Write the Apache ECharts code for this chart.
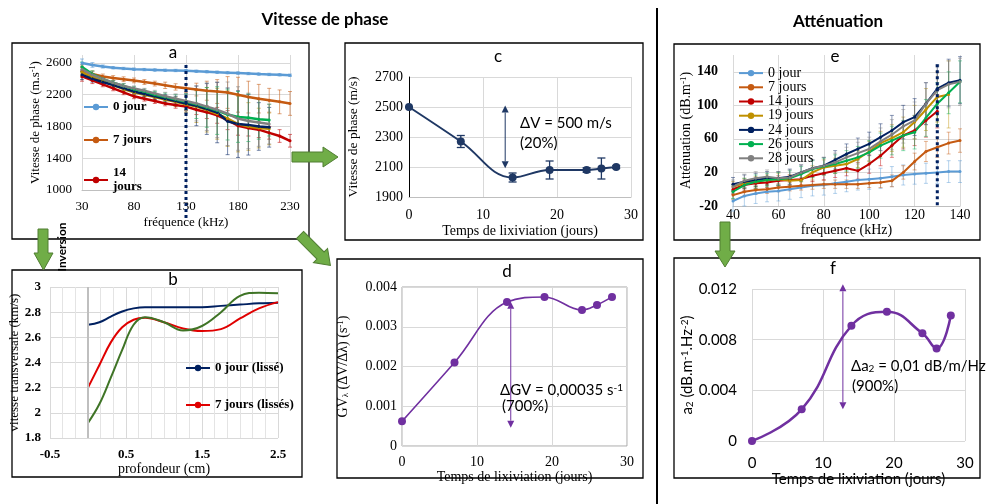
<!DOCTYPE html>
<html>
<head>
<meta charset="utf-8">
<script src="https://cdn.jsdelivr.net/npm/echarts@6/dist/echarts.min.js"></script>
<style>
html, body { margin: 0; padding: 0; background: #fff; }
#chart { width: 986px; height: 504px; }
</style>
</head>
<body>
<div id="chart"></div>
<script>
const serif = '"Liberation Serif", "Times New Roman", serif';
const sans = 'Lato, "Noto Sans", sans-serif';

// --- a : vitesse de phase vs fréquence
const freqA = [30, 40, 50, 60, 70, 80, 90, 100, 110, 120, 130, 140, 150, 160, 170, 180, 190, 200, 210, 220, 230];
const velA0 = [2600, 2575, 2555, 2540, 2530, 2522, 2516, 2512, 2508, 2505, 2502, 2496, 2490, 2484, 2478, 2472, 2466, 2460, 2455, 2450, 2445];
const velA7 = [2500, 2460, 2430, 2410, 2395, 2380, 2360, 2340, 2318, 2298, 2280, 2265, 2250, 2240, 2228, 2200, 2170, 2150, 2130, 2110, 2090];
const velA14 = [2430, 2380, 2330, 2280, 2230, 2180, 2150, 2120, 2090, 2070, 2050, 2010, 1980, 1940, 1880, 1810, 1780, 1760, 1720, 1680, 1620];
const velA19 = [2480, 2420, 2370, 2320, 2270, 2230, 2200, 2170, 2140, 2110, 2080, 2050, 2010, 1960, 1900, 1830, 1800, 1780, 1770, null, null];
const velA24 = [2450, 2400, 2360, 2320, 2280, 2240, 2210, 2180, 2150, 2120, 2090, 2060, 2020, 1975, 1865, 1830, 1820, 1800, 1790, null, null];
const velA26 = [2550, 2460, 2400, 2350, 2310, 2270, 2240, 2200, 2170, 2140, 2110, 2080, 2040, 2000, 1950, 1920, 1910, 1890, 1880, null, null];
const velA28 = [2520, 2450, 2400, 2350, 2310, 2280, 2250, 2215, 2180, 2150, 2120, 2090, 2050, 2010, 1960, 1900, 1870, 1850, 1830, null, null];
const errA0 = [50, 30, 20, 15, 15, 15, 15, 15, 15, 15, 15, 15, 15, 15, 15, 15, 15, 15, 15, 15, 15];
const errA7 = [60, 40, 30, 30, 30, 30, 30, 30, 40, 40, 50, 80, 120, 150, 200, 220, 200, 180, 150, 150, 150];
const errA14 = [60, 40, 30, 30, 30, 30, 30, 30, 30, 40, 50, 60, 80, 100, 120, 120, 100, 100, 80, 80, 80];
const errA19 = [60, 40, 30, 30, 30, 30, 30, 40, 50, 60, 100, 200, 280, 320, 350, 350, 300, 250, 200, null, null];
const errA24 = [60, 40, 30, 30, 30, 30, 30, 40, 50, 60, 120, 250, 320, 380, 420, 420, 380, 300, 250, null, null];
const errA26 = [60, 40, 30, 30, 30, 30, 30, 40, 50, 60, 100, 180, 250, 300, 320, 320, 300, 250, 200, null, null];
const errA28 = [60, 40, 30, 30, 30, 30, 30, 40, 50, 60, 120, 220, 300, 350, 400, 400, 350, 300, 250, null, null];

// --- b : vitesse transversale vs profondeur
const depthB = [0, 0.15, 0.3, 0.45, 0.6, 0.75, 1.0, 1.25, 1.5, 1.75, 2.0, 2.25, 2.5];
const vsB0 = [2.70, 2.72, 2.765, 2.805, 2.83, 2.84, 2.84, 2.84, 2.84, 2.85, 2.86, 2.87, 2.875];
const vsB7 = [2.20, 2.38, 2.56, 2.68, 2.74, 2.755, 2.72, 2.67, 2.65, 2.665, 2.75, 2.83, 2.88];
const vsB14 = [1.92, 2.07, 2.28, 2.50, 2.70, 2.76, 2.72, 2.655, 2.69, 2.80, 2.93, 2.955, 2.95];

// --- c, d, f : temps de lixiviation
const days = [0, 7, 14, 19, 24, 26, 28];
const velC = [2500, 2270, 2030, 2080, 2080, 2090, 2100];
const errC = [0, 40, 30, 60, 15, 70, 10];
const gvD = [0.00062, 0.0021, 0.00362, 0.00375, 0.00342, 0.00355, 0.00375];
const a2F = [0, 0.0025, 0.0091, 0.0102, 0.0085, 0.0073, 0.0099];

// --- e : atténuation vs fréquence
const freqE = [40, 45, 50, 55, 60, 65, 70, 75, 80, 85, 90, 95, 100, 105, 110, 115, 120, 125, 130, 135, 140];
const attE0 = [-14, -8, -5, -3, -2, 0, 2, 4, 5, 7, 9, 11, 12, 13, 15, 17, 18, 19, 20, 21, 21];
const attE7 = [-7, -3, -1, 0, 2, 3, 4, 5, 6, 6, 6, 6, 7, 8, 10, 20, 33, 45, 50, 55, 58];
const attE14 = [0, 5, 7, 8, 10, 11, 12, 16, 19, 22, 25, 22, 30, 40, 52, 64, 70, 82, 93, null, null];
const attE19 = [3, 7, 9, 11, 12, 10, 11, 20, 26, 28, 30, 36, 45, 55, 61, 68, 80, 95, 110, 113, null];
const attE24 = [6, 9, 11, 13, 13, 15, 20, 25, 28, 35, 42, 48, 54, 62, 70, 80, 86, 102, 120, 127, 130];
const attE26 = [-3, 5, 9, 11, 12, 13, 18, 24, 27, 30, 34, 38, 44, 52, 58, 64, 68, 85, 102, 115, 128];
const attE28 = [3, 10, 13, 15, 13, 14, 20, 25, 28, 32, 38, 43, 48, 57, 65, 75, 82, 102, 118, 125, 128];
const errE0 = [12, 12, 12, 12, 12, 12, 12, 12, 12, 12, 12, 12, 12, 12, 12, 12, 12, 12, 13, 13, 13];
const errE7 = [5, 5, 5, 5, 5, 5, 5, 5, 5, 5, 5, 5, 5, 6, 7, 8, 10, 12, 12, 13, 14];
const errE14 = [6, 6, 6, 6, 6, 6, 7, 7, 8, 8, 9, 10, 11, 12, 14, 16, 18, 20, 20, null, null];
const errE19 = [6, 6, 6, 6, 7, 7, 8, 8, 9, 9, 10, 10, 12, 14, 16, 18, 20, 25, 30, 40, null];
const errE24 = [8, 8, 8, 8, 8, 9, 9, 10, 10, 11, 12, 13, 14, 16, 18, 20, 22, 25, 28, 28, 28];
const errE26 = [8, 8, 8, 8, 8, 9, 9, 10, 10, 11, 12, 13, 14, 15, 17, 18, 20, 22, 25, 25, 25];
const errE28 = [8, 8, 8, 8, 8, 9, 9, 10, 10, 11, 12, 13, 14, 16, 18, 20, 22, 25, 28, 28, 28];

const names = ['0 jour', '7 jours', '14 jours', '19 jours', '24 jours', '26 jours', '28 jours'];
const colors = ['#5B9BD5', '#C55A11', '#C00000', '#BF9000', '#002060', '#00B050', '#808080'];
const velA = [velA0, velA7, velA14, velA19, velA24, velA26, velA28];
const errA = [errA0, errA7, errA14, errA19, errA24, errA26, errA28];
const attE = [attE0, attE7, attE14, attE19, attE24, attE26, attE28];
const errE = [errE0, errE7, errE14, errE19, errE24, errE26, errE28];

const grey = '#D9D9D9';
const zip = (xs, ys) => xs.map((x, i) => [x, ys[i]]);
const plain = (v) => String(v);
const fmt3 = (v) => (v === 0 ? '0' : v.toFixed(3));

function errorSeries(idx, xs, ys, errs, color, cap, width, opacity) {
    const data = [];
    xs.forEach((x, i) => {
        if (ys[i] != null && errs[i] != null) data.push([x, ys[i] - errs[i], ys[i] + errs[i]]);
    });
    return {
        type: 'custom', xAxisIndex: idx, yAxisIndex: idx, silent: true, z: 1,
        encode: { x: 0, y: [1, 2] },
        data,
        renderItem: (params, api) => {
            const lo = api.coord([api.value(0), api.value(1)]);
            const hi = api.coord([api.value(0), api.value(2)]);
            const st = { stroke: color, lineWidth: width, opacity };
            return {
                type: 'group',
                children: [
                    { type: 'line', shape: { x1: lo[0], y1: lo[1], x2: hi[0], y2: hi[1] }, style: st },
                    { type: 'line', shape: { x1: lo[0] - cap, y1: lo[1], x2: lo[0] + cap, y2: lo[1] }, style: st },
                    { type: 'line', shape: { x1: hi[0] - cap, y1: hi[1], x2: hi[0] + cap, y2: hi[1] }, style: st },
                ],
            };
        },
    };
}

const txt = (family, size, weight) => ({ fontFamily: family, fontSize: size, fontWeight: weight || 'normal', color: '#000' });
const supRich = (family, size) => ({
    sup: { fontFamily: family, fontSize: size, verticalAlign: 'top', color: '#000' },
    sub: { fontFamily: family, fontSize: size, verticalAlign: 'bottom', color: '#000' },
});

function xAxis(idx, o) {
    return Object.assign({
        gridIndex: idx, type: 'value', axisTick: { show: false },
        axisLine: { show: false, onZero: false },
        splitLine: { show: true, lineStyle: { color: grey } },
        nameLocation: 'middle',
    }, o);
}
function yAxis(idx, o) {
    return Object.assign({
        gridIndex: idx, type: 'value', axisTick: { show: false },
        axisLine: { show: false, onZero: false },
        splitLine: { show: true, lineStyle: { color: grey } },
        nameLocation: 'middle',
    }, o);
}

const series = [];

// a
names.forEach((n, k) => {
    series.push(errorSeries(0, freqA, velA[k], errA[k], colors[k], 2, 1, 0.55));
});
names.forEach((n, k) => {
    series.push({
        name: n, type: 'line', xAxisIndex: 0, yAxisIndex: 0, data: zip(freqA, velA[k]),
        color: colors[k], symbol: 'circle', symbolSize: 3,
        lineStyle: { width: 2.5 }, z: 3 + (k === 0 ? 1 : 0),
    });
});

// b
series.push({
    name: '0 jour (lissé)', type: 'line', xAxisIndex: 1, yAxisIndex: 1, data: zip(depthB, vsB0),
    color: '#002060', symbol: 'none', smooth: 0.4, lineStyle: { width: 2 }, z: 3,
    markLine: {
        silent: true, symbol: 'none', label: { show: false },
        lineStyle: { color: '#BFBFBF', width: 2, type: 'solid' }, data: [{ xAxis: 0 }],
    },
});
series.push({
    name: '7 jours (lissés)', type: 'line', xAxisIndex: 1, yAxisIndex: 1, data: zip(depthB, vsB7),
    color: '#E00000', symbol: 'none', smooth: 0.4, lineStyle: { width: 2 }, z: 3,
});
series.push({
    name: '14 jours (lissés)', type: 'line', xAxisIndex: 1, yAxisIndex: 1, data: zip(depthB, vsB14),
    color: '#3F7426', symbol: 'none', smooth: 0.4, lineStyle: { width: 2 }, z: 3,
});

// c
series.push(errorSeries(2, days, velC, errC, '#1F3864', 4, 1.3, 1));
series.push({
    name: 'vitesse c', type: 'line', xAxisIndex: 2, yAxisIndex: 2, data: zip(days, velC),
    color: '#1F3864', symbol: 'circle', symbolSize: 8, smooth: 0.4, lineStyle: { width: 2 }, z: 3,
});

// d
series.push({
    name: 'gv d', type: 'line', xAxisIndex: 3, yAxisIndex: 3, data: zip(days, gvD),
    color: '#7030A0', symbol: 'circle', symbolSize: 8, smooth: 0.4, lineStyle: { width: 1.6 }, z: 3,
});

// e
names.forEach((n, k) => {
    series.push(errorSeries(4, freqE, attE[k], errE[k], colors[k], 2, 1, 0.45));
});
names.forEach((n, k) => {
    series.push({
        name: n, type: 'line', xAxisIndex: 4, yAxisIndex: 4, data: zip(freqE, attE[k]),
        color: colors[k], symbol: 'circle', symbolSize: 3, lineStyle: { width: 2 }, z: 3,
    });
});

// f
series.push({
    name: 'a2 f', type: 'line', xAxisIndex: 5, yAxisIndex: 5, data: zip(days, a2F),
    color: '#7030A0', symbol: 'circle', symbolSize: 8, smooth: 0.45, lineStyle: { width: 2.5 }, z: 3,
});

const option = {
    animation: false,
    backgroundColor: '#fff',
    grid: [
        { left: 82, top: 55, width: 208, height: 135, outerBoundsMode: 'none' },
        { left: 50, top: 287, width: 228, height: 151, outerBoundsMode: 'none' },
        { left: 409, top: 77, width: 222, height: 120, outerBoundsMode: 'none' },
        { left: 402, top: 287, width: 225, height: 159, show: true, borderColor: '#A6A6A6', borderWidth: 1, backgroundColor: 'transparent', outerBoundsMode: 'none' },
        { left: 733, top: 55, width: 227, height: 151, outerBoundsMode: 'none' },
        { left: 752, top: 289, width: 213, height: 152, outerBoundsMode: 'none' },
    ],
    xAxis: [
        xAxis(0, {
            min: 30, max: 230, interval: 50,
            axisLine: { show: true, onZero: false, lineStyle: { color: '#BFBFBF' } },
            axisLabel: Object.assign({ margin: 10, formatter: plain }, txt(serif, 13)),
            name: 'fréquence (kHz)', nameGap: 26, nameTextStyle: txt(serif, 13),
        }),
        xAxis(1, {
            min: -0.5, max: 2.5, interval: 1,
            minorTick: { show: false, splitNumber: 6 },
            minorSplitLine: { show: true, lineStyle: { color: '#E4E4E4' } },
            axisLabel: Object.assign({ margin: 10 }, txt(serif, 13, 'bold')),
            name: 'profondeur (cm)', nameGap: 24, nameTextStyle: txt(serif, 14),
        }),
        xAxis(2, {
            min: 0, max: 30, interval: 10,
            axisLine: { show: true, onZero: false, lineStyle: { color: '#BFBFBF' } },
            axisLabel: Object.assign({ margin: 11 }, txt(serif, 14)),
            name: 'Temps de lixiviation (jours)', nameGap: 27, nameTextStyle: txt(serif, 14),
        }),
        xAxis(3, {
            min: 0, max: 30, interval: 10,
            axisLabel: Object.assign({ margin: 9 }, txt(serif, 14)),
            name: 'Temps de lixiviation (jours)', nameGap: 23, nameTextStyle: txt(serif, 14),
        }),
        xAxis(4, {
            min: 40, max: 140, interval: 20,
            axisLine: { show: true, onZero: false, lineStyle: { color: '#BFBFBF' } },
            axisLabel: Object.assign({ margin: 2 }, txt(serif, 14)),
            name: 'fréquence (kHz)', nameGap: 15, nameTextStyle: txt(serif, 14),
        }),
        xAxis(5, {
            min: 0, max: 30, interval: 10,
            axisLabel: Object.assign({ margin: 15 }, txt(sans, 15)),
            name: 'Temps de lixiviation (jours)', nameGap: 28, nameTextStyle: txt(sans, 15),
        }),
    ],
    yAxis: [
        yAxis(0, {
            min: 1000, max: 2700, interval: 400,
            splitLine: { show: true, showMaxLine: false, lineStyle: { color: grey } },
            axisLabel: Object.assign({ margin: 10, showMaxLabel: false, formatter: plain }, txt(serif, 13)),
            name: 'Vitesse de phase (m.s{sup|-1})', nameGap: 40,
            nameTextStyle: Object.assign(txt(serif, 13), { rich: supRich(serif, 8) }),
        }),
        yAxis(1, {
            min: 1.8, max: 3, interval: 0.2,
            axisLabel: Object.assign({ margin: 9 }, txt(serif, 13, 'bold')),
            name: 'vitesse transversale (km/s)', nameGap: 23,
            nameTextStyle: txt(serif, 13),
        }),
        yAxis(2, {
            min: 1900, max: 2700, interval: 200,
            axisLine: { show: true, onZero: false, lineStyle: { color: '#000' } },
            axisLabel: Object.assign({ margin: 6, formatter: plain }, txt(serif, 14)),
            name: 'Vitesse de phase (m/s)', nameGap: 49,
            nameTextStyle: txt(serif, 13.5),
        }),
        yAxis(3, {
            min: 0, max: 0.004, interval: 0.001,
            axisLabel: Object.assign({ margin: 5, formatter: fmt3 }, txt(serif, 14)),
            name: 'GV{sub|λ} (ΔV/Δλ) (s{sup|-1})', nameGap: 52,
            nameTextStyle: Object.assign(txt(serif, 14), { rich: supRich(serif, 9) }),
        }),
        yAxis(4, {
            min: -20, max: 160, interval: 40,
            splitLine: { show: true, showMaxLine: false, lineStyle: { color: grey } },
            axisLabel: Object.assign({ margin: 15, showMaxLabel: false, formatter: plain }, txt(serif, 14, 'bold')),
            name: 'Atténuation (dB.m{sup|-1})', nameGap: 39,
            nameTextStyle: Object.assign(txt(serif, 14), { rich: supRich(serif, 9) }),
        }),
        yAxis(5, {
            min: 0, max: 0.012, interval: 0.004,
            axisLabel: Object.assign({ margin: 15, formatter: fmt3 }, txt(sans, 15)),
            name: 'a{sub|2} (dB.m{sup|-1}.Hz{sup|-2})', nameGap: 52,
            nameTextStyle: Object.assign(txt(sans, 15), { rich: supRich(sans, 10) }),
        }),
    ],
    legend: [
        {
            data: names.slice(0, 3), orient: 'vertical', left: 83, top: 100, itemGap: 19,
            itemWidth: 24, itemHeight: 8, selectedMode: false, padding: 0,
            formatter: (n) => (n === '14 jours' ? '14\njours' : n),
            textStyle: Object.assign({ lineHeight: 14 }, txt(serif, 13, 'bold')),
        },
        {
            data: ['0 jour (lissé)', '7 jours (lissés)'], orient: 'vertical', left: 185, top: 361, itemGap: 23,
            itemWidth: 24, itemHeight: 8, selectedMode: false, padding: 0,
            textStyle: Object.assign({ lineHeight: 14 }, txt(serif, 13, 'bold')),
        },
        {
            data: names, orient: 'vertical', left: 738, top: 66, itemGap: 0,
            itemWidth: 24, itemHeight: 8, selectedMode: false, padding: 0,
            textStyle: Object.assign({ lineHeight: 14.2 }, txt(serif, 14)),
        },
    ],
    series,
};

const chart = echarts.init(document.getElementById('chart'));
chart.setOption(option);

// ----- decorations: frames, titles, arrows, annotations
const green = { fill: '#70AD47', stroke: '#507E32', lineWidth: 1 };
const frame = (x, y, w, h) => ({ type: 'rect', shape: { x, y, width: w, height: h }, style: { fill: 'none', stroke: '#000', lineWidth: 1.3 }, z: 0 });
const label = (text, x, y, size, extra) => ({
    type: 'text', x, y, z: 100,
    style: Object.assign({ text, fontFamily: sans, fontSize: size, fill: '#000', align: 'center', verticalAlign: 'middle' }, extra || {}),
});
const note = (text, x, y) => ({
    type: 'text', x, y, z: 100,
    style: {
        text, fontFamily: sans, fontSize: 15, fill: '#000', align: 'left', verticalAlign: 'middle',
        rich: {
            sup: { fontFamily: sans, fontSize: 10, verticalAlign: 'top', fill: '#000' },
            sub: { fontFamily: sans, fontSize: 10, verticalAlign: 'bottom', fill: '#000' },
        },
    },
});

const px = (idx, x, y) => chart.convertToPixel({ xAxisIndex: idx, yAxisIndex: idx }, [x, y]);
function dotted(idx, x, y1, y2) {
    const p1 = px(idx, x, y1);
    const p2 = px(idx, x, y2);
    return {
        type: 'line', z: 50, shape: { x1: p1[0], y1: p1[1], x2: p2[0], y2: p2[1] },
        style: { stroke: '#002060', lineWidth: 3, lineDash: [3, 3] },
    };
}
function dblArrow(idx, x, y1, y2, color) {
    const p1 = px(idx, x, y1);
    const p2 = px(idx, x, y2);
    const h = 7, w = 3.5;
    return {
        type: 'group', z: 50,
        children: [
            { type: 'line', shape: { x1: p1[0], y1: p1[1] + h, x2: p2[0], y2: p2[1] - h }, style: { stroke: color, lineWidth: 1 } },
            { type: 'polygon', shape: { points: [[p1[0], p1[1]], [p1[0] - w, p1[1] + h], [p1[0] + w, p1[1] + h]] }, style: { fill: color } },
            { type: 'polygon', shape: { points: [[p2[0], p2[1]], [p2[0] - w, p2[1] - h], [p2[0] + w, p2[1] - h]] }, style: { fill: color } },
        ],
    };
}

const inversion = label('Inversion', 62, 247, 12, { fontWeight: 'bold' });
inversion.rotation = Math.PI / 2;

const elements = [
    label('Vitesse de phase', 325, 20, 17, { fontWeight: 'bold' }),
    label('Atténuation', 838, 22, 17, { fontWeight: 'bold' }),
    { type: 'line', shape: { x1: 657, y1: 8, x2: 657, y2: 504 }, style: { stroke: '#000', lineWidth: 2 }, z: 0 },
    frame(12, 43, 297, 196),
    frame(12, 270, 290, 207),
    frame(345, 43, 298, 197),
    frame(337, 259, 306, 219),
    frame(674, 44, 306, 196),
    frame(674, 258, 306, 220),
    label('a', 173, 53, 17),
    label('b', 173, 280, 17),
    label('c', 498, 57, 17),
    label('d', 507, 272, 17),
    label('e', 835, 57, 17),
    label('f', 833, 269, 17),
    inversion,
    { type: 'polygon', z: 90, shape: { points: [[38, 229], [48, 229], [48, 253], [53, 253], [43.5, 270], [34, 253], [38, 253]] }, style: green },
    { type: 'polygon', z: 90, shape: { points: [[292, 152], [323, 152], [323, 147], [338, 157], [323, 167], [323, 162], [292, 162]] }, style: green },
    { type: 'polygon', z: 90, x: 300, y: 235, rotation: -Math.PI / 4, shape: { points: [[0, -5], [29, -5], [29, -10], [43, 0], [29, 10], [29, 5], [0, 5]] }, style: green },
    { type: 'polygon', z: 90, shape: { points: [[720, 222], [730, 222], [730, 251], [735, 251], [725, 267], [715, 251], [720, 251]] }, style: green },
    note('ΔV = 500 m/s', 520, 123),
    note('(20%)', 520, 143),
    note('ΔGV = 0,00035 s{sup|-1}', 500, 390),
    note('(700%)', 502, 406),
    note('Δa{sub|2} = 0,01 dB/m/Hz', 851, 366),
    note('(900%)', 852, 386),
    dotted(0, 130, 2575, 620),
    dotted(4, 130, 149, -21),
    dblArrow(2, 13, 2510, 2092, '#1F3864'),
    dblArrow(3, 14.5, 0.00363, 0.00046, '#7030A0'),
    dblArrow(5, 12.8, 0.01237, 0.0025, '#7030A0'),
];

chart.setOption({ graphic: { elements } });
</script>
</body>
</html>
